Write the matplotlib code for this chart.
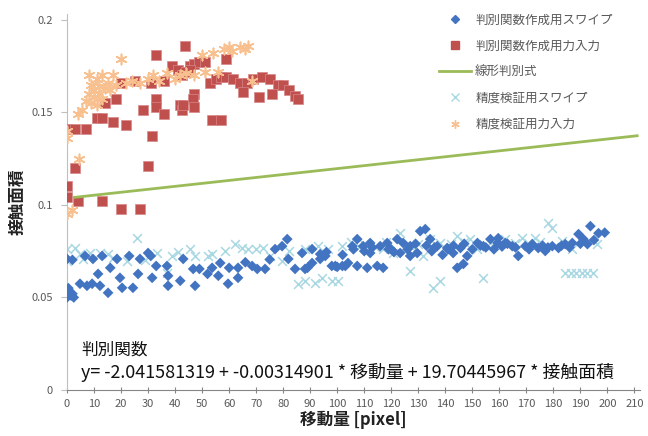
import numpy as np
import matplotlib
matplotlib.use('Agg')
import matplotlib.pyplot as plt
from matplotlib.ticker import FuncFormatter, MultipleLocator
from matplotlib.lines import Line2D

plt.rcParams['font.family'] = ['Noto Sans CJK JP', 'DejaVu Sans']

# 判別関数作成用スワイプ (blue diamonds)
swipe_train_x = [0, 1, 2, 0.5, 2.5, 1.5,
                 0, 2, 6.7, 9.6, 13, 18.5, 23, 27, 30, 31, 33, 37, 43, 46.7, 49, 52,
                 4.8, 7.4, 9.3, 12.2, 11.5, 16, 19.6, 20.4, 15.2, 24.4, 26.3, 31.5, 37.4, 37.4, 41.9, 47.4,
                 53.7, 56.7, 56, 59.6, 63.3, 63.3, 68.5, 70.4, 73.3, 77, 79.6, 81.5, 81.9, 84.4, 87, 88.1,
                 90.7, 93.7, 95.6, 99.3, 101.9, 104, 105.6, 90.7, 93.7,
                 107.4, 109.6, 112.2, 115.9, 118.5, 122.2, 124.4, 127, 130.7, 132.6, 134.4, 137, 140.7,
                 142.9, 145.6, 148.1, 107.4, 111.1, 114.8, 117, 144.4, 146.7, 127, 129.6, 151.9, 154.1,
                 156.7, 159.3, 123.3, 112.2, 89, 98, 100, 103, 120, 135, 139,
                 159.6, 162.2, 164.8, 167, 169.6, 172.2, 174.4, 177, 179.6, 181.9, 184.4, 187, 189.3,
                 191.1, 193.7, 196.7, 192.6,
                 96, 102, 106, 110, 113, 119, 121, 126, 129, 133, 136, 141, 143, 147, 150, 153, 155,
                 158, 161, 163, 166, 171, 176, 178, 183, 186, 190, 195, 199, 75, 66, 60]
swipe_train_y = [0.050, 0.053, 0.052, 0.055, 0.050, 0.051,
                 0.0708, 0.0703, 0.0724, 0.0708, 0.0724, 0.0708, 0.0724, 0.0708, 0.074, 0.0724, 0.067, 0.067,
                 0.0708, 0.0654, 0.0654, 0.0627,
                 0.0574, 0.0563, 0.0574, 0.0563, 0.0627, 0.066, 0.0606, 0.0552, 0.0525, 0.0552, 0.0627,
                 0.0606, 0.0617, 0.0563, 0.059, 0.0563,
                 0.0660, 0.0686, 0.0617, 0.0574, 0.0660, 0.0606, 0.0670, 0.0654, 0.0654, 0.0761, 0.0777,
                 0.0815, 0.0708, 0.0654, 0.0740, 0.0654,
                 0.0686, 0.0708, 0.0724, 0.0670, 0.0670, 0.0686, 0.0777, 0.0761, 0.0734,
                 0.0815, 0.0777, 0.0794, 0.0777, 0.0794, 0.0815, 0.0794, 0.0777, 0.0858, 0.0869, 0.0815,
                 0.0777, 0.0767, 0.0740, 0.0767, 0.0724, 0.0670, 0.0660, 0.0670, 0.0660, 0.0660, 0.0681,
                 0.0724, 0.0740, 0.0794, 0.0777, 0.0815, 0.0794, 0.0740, 0.0740, 0.0660, 0.0670, 0.0665,
                 0.0670, 0.0760, 0.0750, 0.0730,
                 0.0820, 0.0794, 0.0777, 0.0724, 0.0777, 0.0788, 0.0767, 0.0751, 0.0777, 0.0767, 0.0788,
                 0.0794, 0.0842, 0.0815, 0.0885, 0.0847, 0.0788,
                 0.0745, 0.0730, 0.0760, 0.0750, 0.0770, 0.0760, 0.0745, 0.0760, 0.0790, 0.0780, 0.0770,
                 0.0760, 0.0780, 0.0790, 0.0760, 0.0780, 0.0770, 0.0760, 0.0775, 0.0790, 0.0770, 0.0760,
                 0.0780, 0.0770, 0.0780, 0.0770, 0.0790, 0.0810, 0.0850, 0.0705, 0.0690, 0.0660]

# 判別関数作成用力入力 (red squares)
force_train_x = [0, 3, 7, 11, 13, 17, 22, 14, 18, 28, 31.5, 30, 3, 0, 0, 4, 13, 20, 27,
                 33, 33, 33, 36, 42, 43.5, 20, 25, 31, 36, 39, 41, 59, 45.5, 47, 49, 51,
                 42.5, 44, 45.5, 53, 55, 57, 59, 61.5, 64, 66.5, 69, 72, 75, 78, 80, 82, 84.5, 85.5,
                 65, 71, 76, 47, 46.5, 47, 42.5, 43, 53.5, 57]
force_train_y = [0.141, 0.141, 0.141, 0.147, 0.147, 0.145, 0.143, 0.155, 0.157, 0.151, 0.137, 0.121,
                 0.120, 0.110, 0.104, 0.102, 0.102, 0.098, 0.098,
                 0.181, 0.157, 0.153, 0.149, 0.154, 0.186, 0.166, 0.167, 0.166, 0.167, 0.175, 0.173,
                 0.179, 0.175, 0.176, 0.177, 0.177,
                 0.170, 0.172, 0.173, 0.166, 0.168, 0.169, 0.169, 0.168, 0.166, 0.166, 0.168, 0.169,
                 0.168, 0.165, 0.165, 0.162, 0.159, 0.157,
                 0.161, 0.158, 0.160, 0.160, 0.157, 0.153, 0.151, 0.154, 0.146, 0.146]

# 精度検証用スワイプ (light blue x)
swipe_test_x = [0, 3, 4.8, 8.5, 12.2, 17, 22.2, 26, 33.3, 37, 39, 45.6, 47.4, 52, 0,
                53.7, 58.5, 62.2, 64.8, 67, 72.6, 75.2, 79.6, 85.6, 88.1, 91.9, 94.4, 98.1, 100.4,
                88.1, 93, 96.7, 101.9,
                123.3, 127, 134.4, 138.1, 144.4, 149.3, 151.9, 156.7, 127, 135.6, 138.1, 154.1, 120.7, 131.9,
                105, 110, 114, 117, 142, 147,
                162.2, 165.9, 168.5, 170.7, 173.3, 178.1, 179.6, 183.3, 187,
                184.4, 186.5, 188.5, 190.5, 192.5, 194.5,
                6, 15, 29, 41, 70, 82, 108, 118, 130, 160, 175, 196]
swipe_test_y = [0.0761, 0.0767, 0.0735, 0.074, 0.074, 0.0713, 0.0697, 0.082, 0.074, 0.0633, 0.0724,
                0.0761, 0.0724, 0.0724, 0.0697,
                0.0735, 0.0751, 0.0788, 0.0767, 0.0761, 0.0767, 0.0724, 0.0697, 0.0574, 0.059, 0.0579,
                0.0606, 0.059, 0.059,
                0.0761, 0.0777, 0.0761, 0.0777,
                0.0847, 0.0777, 0.0815, 0.0794, 0.0831, 0.0815, 0.0761, 0.0794, 0.0643, 0.0552, 0.059,
                0.0606, 0.074, 0.0724,
                0.0800, 0.0790, 0.0770, 0.0760, 0.0790, 0.0800,
                0.0815, 0.0794, 0.082, 0.0794, 0.082, 0.0901, 0.0874, 0.0804, 0.0761,
                0.0633, 0.0633, 0.0633, 0.0633, 0.0633, 0.0633,
                0.0710, 0.0735, 0.0700, 0.0745, 0.0760, 0.0750, 0.0775, 0.0800, 0.0790, 0.0790, 0.0800,
                0.0790]

# 精度検証用力入力 (orange asterisks)
force_test_x = [0, 0, 0, 2, 4.5, 4, 5.5, 7, 8, 8, 9, 9, 10, 10, 11, 11, 12, 12, 13, 13, 14, 15, 16,
                17, 18, 20, 22, 24, 27, 30, 32, 34, 37, 40, 42, 44, 47, 50, 51, 54, 56, 58, 60, 61,
                64, 66, 67, 68.5]
force_test_y = [0.136, 0.140, 0.095, 0.097, 0.125, 0.149, 0.151, 0.156, 0.160, 0.170, 0.155, 0.165,
                0.158, 0.162, 0.154, 0.168, 0.160, 0.164, 0.157, 0.170, 0.163, 0.166, 0.162, 0.170,
                0.165, 0.179, 0.166, 0.167, 0.166, 0.168, 0.170, 0.167, 0.171, 0.168, 0.170, 0.171,
                0.170, 0.181, 0.172, 0.182, 0.172, 0.184, 0.185, 0.183, 0.185, 0.184, 0.186, 0.167]

# 線形判別式: -2.041581319 - 0.00314901*x + 19.70445967*y = 0
coef_c, coef_x, coef_y = -2.041581319, -0.00314901, 19.70445967
line_x = np.array([3, 211])
line_y = -(coef_c + coef_x * line_x) / coef_y

c_blue, c_red, c_green, c_lblue, c_orange = '#4374C2', '#C0504D', '#9BBB59', '#A8D8E2', '#F9C08F'
grey = '#595959'

fig = plt.figure(figsize=(6.48, 4.36), dpi=100)
ax = fig.add_axes([0.1034, 0.1055, 0.884, 0.862])

ax.scatter(swipe_test_x, swipe_test_y, marker='x', s=40, linewidths=1.1, color=c_lblue, zorder=2)
ax.scatter(swipe_train_x, swipe_train_y, marker='D', s=30, color=c_blue, edgecolors='none', zorder=3)
ax.scatter(force_train_x, force_train_y, marker='s', s=44, color=c_red, edgecolors='#D9888A',
           linewidths=0.5, zorder=3)
ax.scatter(force_test_x, force_test_y, marker=(6, 2, 0), s=55, linewidths=1.2, color=c_orange, zorder=4)
ax.plot(line_x, line_y, color=c_green, lw=2, zorder=5)

ax.set_xlim(0, 212)
ax.set_ylim(0, 0.203)
ax.xaxis.set_major_locator(MultipleLocator(10))
ax.yaxis.set_major_locator(MultipleLocator(0.05))
ax.yaxis.set_major_formatter(FuncFormatter(lambda v, p: '%g' % round(v, 3)))
for s in ['top', 'right']:
    ax.spines[s].set_visible(False)
ax.spines['left'].set_color('#BFBFBF')
ax.spines['bottom'].set_color('#868686')
ax.tick_params(axis='x', direction='inout', length=5, color='#868686', labelsize=8, labelcolor=grey, pad=4)
ax.tick_params(axis='y', direction='out', length=4, color='#BFBFBF', labelsize=8, labelcolor=grey, pad=6)

ax.set_xlabel('移動量 [pixel]', fontsize=12, fontweight='bold', color='#222222', labelpad=1)
ax.set_ylabel('接触面積', fontsize=12, fontweight='bold', color='#222222', labelpad=4)

ax.text(0.025, 0.107, '判別関数', transform=ax.transAxes, fontsize=12, color='#111111', va='center')
ax.text(0.025, 0.046, 'y= -2.041581319 + -0.00314901 * 移動量 + 19.70445967 * 接触面積',
        transform=ax.transAxes, fontsize=12.9, color='#111111', va='center')

handles = [
    Line2D([], [], ls='none', marker='D', ms=4.5, color=c_blue),
    Line2D([], [], ls='none', marker='s', ms=6, color=c_red),
    Line2D([], [], color=c_green, lw=2),
    Line2D([], [], ls='none', marker='x', ms=6, mew=1, color=c_lblue),
    Line2D([], [], ls='none', marker=(6, 2, 0), ms=6, mew=1, color=c_orange),
]
labels = ['判別関数作成用スワイプ', '判別関数作成用力入力', '線形判別式', '精度検証用スワイプ', '精度検証用力入力']
leg = fig.legend(handles, labels, loc='upper left', bbox_to_anchor=(0.66, 0.995), frameon=False,
                 fontsize=9, labelspacing=1.05, handlelength=2.6, handletextpad=0.3)
for t in leg.get_texts():
    t.set_color(grey)

fig.savefig('out.png', dpi=100)
